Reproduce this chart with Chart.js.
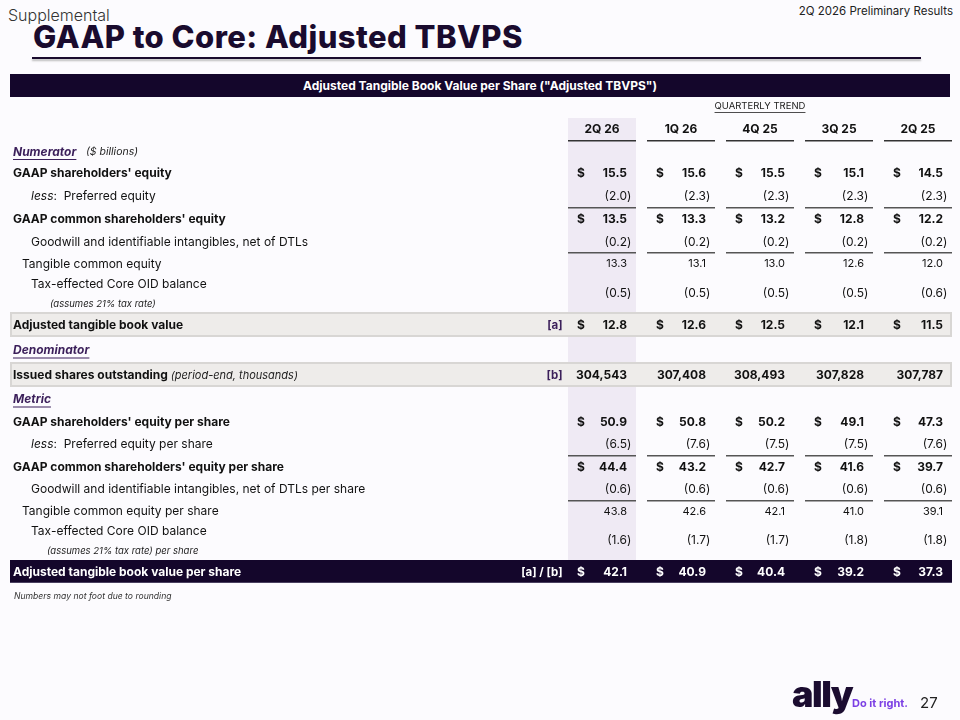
<!DOCTYPE html>
<html>
<head>
<meta charset="utf-8">
<script src="https://cdn.jsdelivr.net/npm/chart.js@4.4.1/dist/chart.umd.min.js"></script>
<style>
  body { margin:0; background:#fcfbfe; width:960px; height:720px; overflow:hidden; position:relative; font-family:Inter, "Noto Sans", sans-serif; color:#1a1a1a; }
  #table { position:absolute; left:0; top:0; }
  .abs { position:absolute; white-space:nowrap; }
  #supp { left:8px; top:5px; font-size:16px; font-weight:300; color:#333; }
  #results { right:7px; top:4px; font-size:11.5px; color:#222; }
  #title { left:33px; top:18px; font-size:31px; font-weight:800; color:#1a0b2e; letter-spacing:0.45px; }
  #rule { left:32px; top:57px; width:889px; height:2px; background:#1a0b2e; box-shadow:0 2px 2px #bbb; }
  #band { left:10px; top:74px; width:940px; height:23px; line-height:23px; background:#14062b; color:#fff; text-align:center; font-size:12px; font-weight:700; }
  #foot { left:14px; top:591px; font-size:8.6px; font-style:italic; color:#333; }
  #ally { left:792px; top:672px; font-size:36px; font-weight:900; color:#1b0c30; letter-spacing:-1.5px; }
  #slogan { left:852px; top:696px; font-size:11px; font-weight:700; color:#7b3fe4; }
  #page { left:920px; top:693px; font-size:15px; color:#222; }
</style>
</head>
<body>
<div class="abs" id="supp">Supplemental</div>
<div class="abs" id="results">2Q 2026 Preliminary Results</div>
<div class="abs" id="title">GAAP to Core: Adjusted TBVPS</div>
<div class="abs" id="rule"></div>
<div class="abs" id="band">Adjusted Tangible Book Value per Share ("Adjusted TBVPS")</div>
<canvas id="table" width="960" height="720"></canvas>
<div class="abs" id="foot">Numbers may not foot due to rounding</div>
<div class="abs" id="ally">ally</div>
<div class="abs" id="slogan">Do it right.</div>
<div class="abs" id="page">27</div>

<script>
// quarterly trend, newest first
const quarters = ['2Q 26', '1Q 26', '4Q 25', '3Q 25', '2Q 25'];

// numerator ($ billions)
const gaapEquity = [15.5, 15.6, 15.5, 15.1, 14.5];
const preferredEquity = [-2.0, -2.3, -2.3, -2.3, -2.3];
const gaapCommonEquity = [13.5, 13.3, 13.2, 12.8, 12.2];
const goodwillIntangibles = [-0.2, -0.2, -0.2, -0.2, -0.2];
const tangibleCommonEquity = [13.3, 13.1, 13.0, 12.6, 12.0];
const coreOidBalance = [-0.5, -0.5, -0.5, -0.5, -0.6];
const adjustedTbv = [12.8, 12.6, 12.5, 12.1, 11.5];

// denominator (period-end, thousands)
const sharesOutstanding = [304543, 307408, 308493, 307828, 307787];

// metric (per share)
const gaapEquityPerShare = [50.9, 50.8, 50.2, 49.1, 47.3];
const preferredPerShare = [-6.5, -7.6, -7.5, -7.5, -7.6];
const commonPerShare = [44.4, 43.2, 42.7, 41.6, 39.7];
const goodwillPerShare = [-0.6, -0.6, -0.6, -0.6, -0.6];
const tangiblePerShare = [43.8, 42.6, 42.1, 41.0, 39.1];
const oidPerShare = [-1.6, -1.7, -1.7, -1.8, -1.8];
const adjustedTbvps = [42.1, 40.9, 40.4, 39.2, 37.3];

const FONT = 'Inter, "Noto Sans", sans-serif';
const PURPLE = '#3b1f5a';
const NAVY = '#14062b';

// table rows, top to bottom; h = slot height on the y scale
const rows = [
  { kind: 'header', h: 23 },
  { kind: 'section', label: 'Numerator', note: '($ billions)', h: 20 },
  { kind: 'bold', label: "GAAP shareholders' equity", values: gaapEquity, dollar: true, h: 23 },
  { kind: 'plain', pre: 'less', label: 'Preferred equity', values: preferredEquity, indent: 31, h: 23 },
  { kind: 'bold', label: "GAAP common shareholders' equity", values: gaapCommonEquity, dollar: true, rule: true, h: 23 },
  { kind: 'plain', label: 'Goodwill and identifiable intangibles, net of DTLs', values: goodwillIntangibles, indent: 31, h: 22 },
  { kind: 'small', label: 'Tangible common equity', values: tangibleCommonEquity, indent: 22, rule: true, h: 22 },
  { kind: 'tall', label: 'Tax-effected Core OID balance', sub: '(assumes 21% tax rate)', values: coreOidBalance, indent: 31, subIndent: 50, h: 38 },
  { kind: 'band', label: 'Adjusted tangible book value', tag: '[a]', values: adjustedTbv, dollar: true, h: 25 },
  { kind: 'section', label: 'Denominator', h: 25 },
  { kind: 'band', label: 'Issued shares outstanding', note: '(period-end, thousands)', tag: '[b]', values: sharesOutstanding, shares: true, h: 25 },
  { kind: 'section', label: 'Metric', h: 23 },
  { kind: 'bold', label: "GAAP shareholders' equity per share", values: gaapEquityPerShare, dollar: true, h: 22 },
  { kind: 'plain', pre: 'less', label: 'Preferred equity per share', values: preferredPerShare, indent: 31, h: 23 },
  { kind: 'bold', label: "GAAP common shareholders' equity per share", values: commonPerShare, dollar: true, rule: true, h: 22 },
  { kind: 'plain', label: 'Goodwill and identifiable intangibles, net of DTLs per share', values: goodwillPerShare, indent: 31, h: 23 },
  { kind: 'small', label: 'Tangible common equity per share', values: tangiblePerShare, indent: 22, rule: true, h: 21 },
  { kind: 'tall', label: 'Tax-effected Core OID balance', sub: '(assumes 21% tax rate) per share', values: oidPerShare, indent: 31, subIndent: 47, h: 39 },
  { kind: 'final', label: 'Adjusted tangible book value per share', tag: '[a] / [b]', values: adjustedTbvps, dollar: true, h: 23 }
];
const totalHeight = rows.reduce((s, r) => s + r.h, 0);

function fmt(v, shares) {
  if (shares) return v.toLocaleString('en-US');
  return Math.abs(v).toFixed(1);
}

const tablePlugin = {
  id: 'tableCells',
  afterDraw(chart) {
    const { ctx, scales: { x, y } } = chart;
    const half = 34;
    const leftEdge = 10;
    const rightEdge = x.getPixelForValue(quarters.length - 1) + half;
    const colX = quarters.map((q, i) => x.getPixelForValue(i));

    // slot positions for each row from the y scale
    let u = 0;
    const slots = rows.map(r => {
      const top = y.getPixelForValue(u);
      const bottom = y.getPixelForValue(u + r.h);
      u += r.h;
      return { top, bottom, mid: (top + bottom) / 2 + 1 };
    });

    ctx.save();
    // current-quarter column shading
    const lastTall = rows.length - 2;
    ctx.fillStyle = '#efeaf4';
    ctx.fillRect(colX[0] - half, slots[0].top, half * 2, slots[lastTall].bottom - slots[0].top);

    // QUARTERLY TREND caption
    ctx.fillStyle = '#222';
    ctx.font = '9.5px ' + FONT;
    ctx.textAlign = 'center';
    ctx.textBaseline = 'middle';
    const capX = colX[2];
    const capY = slots[0].top - 12;
    ctx.fillText('QUARTERLY TREND', capX, capY);
    const capW = ctx.measureText('QUARTERLY TREND').width;
    ctx.fillRect(capX - capW / 2, capY + 6, capW, 0.8);

    rows.forEach((r, ri) => {
      const s = slots[ri];
      ctx.textBaseline = 'middle';

      if (r.kind === 'band' || r.kind === 'final') {
        ctx.fillStyle = r.kind === 'band' ? '#eeecea' : NAVY;
        ctx.fillRect(leftEdge, s.top, rightEdge - leftEdge, s.bottom - s.top);
        if (r.kind === 'band') {
          ctx.strokeStyle = '#d8d6d4';
          ctx.lineWidth = 2;
          ctx.strokeRect(leftEdge + 1, s.top + 1, rightEdge - leftEdge - 2, s.bottom - s.top - 2);
        } else {
          ctx.fillStyle = '#4a4060';
          ctx.fillRect(leftEdge, s.bottom - 1, rightEdge - leftEdge, 1);
        }
      }

      if (r.kind === 'header') {
        ctx.fillStyle = '#111';
        ctx.font = 'bold 12px ' + FONT;
        ctx.textAlign = 'center';
        quarters.forEach((q, i) => ctx.fillText(q, colX[i], s.mid - 1));
        ctx.fillStyle = '#333';
        colX.forEach(cx => ctx.fillRect(cx - half, s.bottom - 1, half * 2, 1.5));
        return;
      }

      if (r.rule) {
        ctx.fillStyle = '#555';
        colX.forEach(cx => ctx.fillRect(cx - half, s.top, half * 2, 1.5));
      }

      const white = r.kind === 'final';
      const textColor = white ? '#fff' : '#111';

      // row label
      ctx.textAlign = 'left';
      if (r.kind === 'section') {
        ctx.font = 'italic bold 12px ' + FONT;
        ctx.fillStyle = PURPLE;
        ctx.fillText(r.label, 13, s.mid);
        const w = ctx.measureText(r.label).width;
        ctx.fillRect(13, s.mid + 7, w, 1);
        if (r.note) {
          ctx.font = 'italic 10.5px ' + FONT;
          ctx.fillStyle = '#222';
          ctx.fillText(r.note, 86, s.mid);
        }
        return;
      }

      const boldRow = r.kind === 'bold' || r.kind === 'band' || r.kind === 'final';
      const labelY = r.kind === 'tall' ? s.top + 10 : s.mid;
      let lx = r.indent || 13;
      ctx.fillStyle = textColor;
      if (r.pre) {
        ctx.font = 'italic 12px ' + FONT;
        ctx.fillText(r.pre, lx, labelY);
        lx += ctx.measureText(r.pre).width;
        ctx.font = '12px ' + FONT;
        ctx.fillText(':  ', lx, labelY);
        lx += ctx.measureText(':  ').width;
      }
      ctx.font = (boldRow ? 'bold ' : '') + '12px ' + FONT;
      ctx.fillText(r.label, lx, labelY);
      if (r.note) {
        lx += ctx.measureText(r.label + ' ').width;
        ctx.font = 'italic 11px ' + FONT;
        ctx.fillStyle = '#222';
        ctx.fillText(r.note, lx, labelY);
      }
      if (r.sub) {
        ctx.font = 'italic 9.5px ' + FONT;
        ctx.fillStyle = '#222';
        ctx.fillText(r.sub, r.subIndent, s.top + 30.5);
      }
      if (r.tag) {
        ctx.font = 'bold 11.5px ' + FONT;
        ctx.fillStyle = white ? '#fff' : PURPLE;
        ctx.textAlign = 'right';
        ctx.fillText(r.tag, x.left, s.mid);
      }

      // value cells
      const valFont = (boldRow ? 'bold ' : '') + (r.kind === 'small' ? '11px ' : '12px ') + FONT;
      r.values.forEach((v, i) => {
        const cx = colX[i];
        const vy = r.kind === 'tall' ? s.mid - 1 : s.mid;
        ctx.fillStyle = textColor;
        ctx.font = valFont;
        if (r.dollar) {
          ctx.textAlign = 'left';
          ctx.fillText('$', cx - 25, vy);
        }
        ctx.textAlign = 'right';
        const txt = fmt(v, r.shares);
        ctx.fillText(v < 0 ? '(' + txt : txt, cx + 25, vy);
        if (v < 0) {
          ctx.textAlign = 'left';
          ctx.fillText(')', cx + 25, vy);
        }
      });
    });
    ctx.restore();
  }
};

new Chart(document.getElementById('table'), {
  type: 'bar',
  data: { labels: quarters, datasets: [] },
  options: {
    responsive: false,
    animation: false,
    devicePixelRatio: 1,
    layout: { padding: { left: 562.5, right: 2.5, top: 118, bottom: 720 - 118 - totalHeight } },
    plugins: { legend: { display: false }, tooltip: { enabled: false } },
    scales: {
      x: { type: 'category', offset: true, display: false },
      y: { type: 'linear', min: 0, max: totalHeight, reverse: true, display: false }
    }
  },
  plugins: [tablePlugin]
});
</script>
</body>
</html>
